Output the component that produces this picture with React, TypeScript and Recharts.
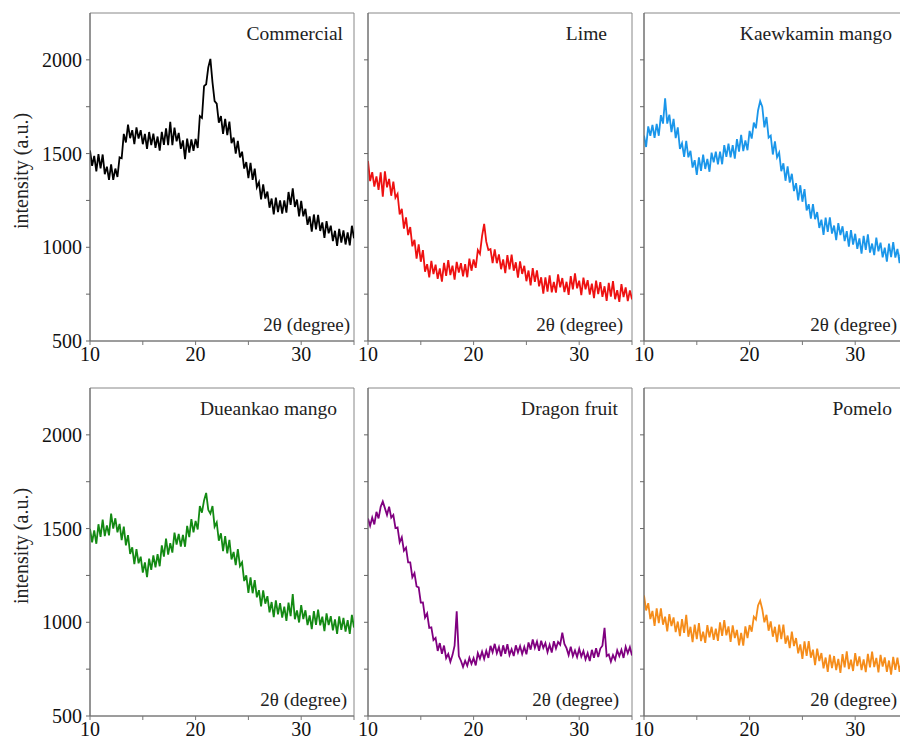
import React from "react";
import { LineChart, Line, XAxis, YAxis, ReferenceArea } from "recharts";

// 2θ measurement angles (degrees)
const twoTheta = [
  10, 10.2, 10.4, 10.6, 10.8, 11, 11.2, 11.4, 11.6, 11.8,
  12, 12.2, 12.4, 12.6, 12.8, 13, 13.2, 13.4, 13.6, 13.8,
  14, 14.2, 14.4, 14.6, 14.8, 15, 15.2, 15.4, 15.6, 15.8,
  16, 16.2, 16.4, 16.6, 16.8, 17, 17.2, 17.4, 17.6, 17.8,
  18, 18.2, 18.4, 18.6, 18.8, 19, 19.2, 19.4, 19.6, 19.8,
  20, 20.2, 20.4, 20.6, 20.8, 21, 21.2, 21.4, 21.6, 21.8,
  22, 22.2, 22.4, 22.6, 22.8, 23, 23.2, 23.4, 23.6, 23.8,
  24, 24.2, 24.4, 24.6, 24.8, 25, 25.2, 25.4, 25.6, 25.8,
  26, 26.2, 26.4, 26.6, 26.8, 27, 27.2, 27.4, 27.6, 27.8,
  28, 28.2, 28.4, 28.6, 28.8, 29, 29.2, 29.4, 29.6, 29.8,
  30, 30.2, 30.4, 30.6, 30.8, 31, 31.2, 31.4, 31.6, 31.8,
  32, 32.2, 32.4, 32.6, 32.8, 33, 33.2, 33.4, 33.6, 33.8,
  34, 34.2, 34.4, 34.6, 34.8, 35,
];

const commercial = [
  1517, 1435, 1488, 1405, 1497, 1421, 1495, 1390, 1430, 1360,
  1443, 1360, 1420, 1375, 1480, 1475, 1605, 1559, 1655, 1582,
  1625, 1550, 1640, 1580, 1625, 1550, 1605, 1525, 1615, 1545,
  1606, 1531, 1591, 1516, 1616, 1546, 1635, 1545, 1670, 1545,
  1639, 1565, 1610, 1525, 1570, 1470, 1580, 1505, 1575, 1515,
  1578, 1530, 1700, 1690, 1860, 1870, 1960, 2005, 1880, 1780,
  1766, 1665, 1700, 1605, 1685, 1599, 1670, 1555, 1585, 1500,
  1568, 1480, 1510, 1420, 1455, 1369, 1450, 1360, 1420, 1320,
  1347, 1255, 1335, 1260, 1297, 1211, 1260, 1175, 1265, 1188,
  1250, 1180, 1250, 1185, 1295, 1226, 1315, 1215, 1255, 1165,
  1247, 1165, 1205, 1120, 1165, 1084, 1175, 1095, 1173, 1087,
  1133, 1050, 1140, 1075, 1115, 1033, 1088, 1007, 1098, 1025,
  1090, 1015, 1080, 1010, 1115, 1048,
];

const lime = [
  1460, 1353, 1401, 1324, 1378, 1306, 1400, 1270, 1405, 1320,
  1365, 1275, 1350, 1265, 1285, 1175, 1205, 1100, 1160, 1065,
  1108, 1005, 1040, 940, 1015, 923, 985, 870, 910, 840,
  927, 857, 907, 832, 887, 817, 917, 847, 932, 852,
  902, 827, 922, 865, 915, 845, 910, 840, 940, 875,
  935, 890, 985, 965, 1060, 1125, 1030, 985, 990, 915,
  989, 915, 962, 883, 935, 862, 958, 882, 961, 875,
  920, 838, 925, 858, 901, 819, 876, 797, 889, 815,
  877, 792, 840, 753, 840, 763, 850, 760, 815, 758,
  856, 786, 836, 761, 816, 746, 846, 776, 861, 781,
  822, 745, 838, 776, 825, 748, 806, 729, 822, 750,
  814, 736, 792, 714, 810, 737, 820, 723, 771, 709,
  803, 734, 786, 713, 770, 722,
];

const kaewkamin = [
  1596, 1535, 1645, 1595, 1653, 1584, 1658, 1595, 1705, 1660,
  1795, 1660, 1708, 1615, 1685, 1582, 1640, 1525, 1555, 1483,
  1568, 1480, 1515, 1425, 1465, 1386, 1480, 1408, 1495, 1418,
  1471, 1403, 1505, 1453, 1510, 1442, 1510, 1443, 1545, 1482,
  1553, 1480, 1545, 1473, 1577, 1510, 1600, 1513, 1570, 1518,
  1621, 1580, 1665, 1635, 1730, 1780, 1750, 1640, 1695, 1585,
  1596, 1495, 1565, 1480, 1505, 1406, 1448, 1355, 1432, 1345,
  1392, 1300, 1342, 1250, 1331, 1243, 1310, 1197, 1230, 1153,
  1230, 1150, 1188, 1103, 1147, 1066, 1158, 1082, 1160, 1073,
  1116, 1038, 1129, 1065, 1112, 1033, 1086, 1003, 1091, 1014,
  1072, 992, 1047, 966, 1061, 986, 1069, 972, 1020, 958,
  1052, 978, 1025, 946, 998, 924, 1020, 947, 1028, 945,
  991, 916, 1012, 953, 1004, 930,
];

const dueankao = [
  1498, 1427, 1490, 1419, 1523, 1456, 1548, 1460, 1517, 1464,
  1580, 1500, 1555, 1480, 1525, 1438, 1510, 1410, 1465, 1365,
  1400, 1310, 1390, 1315, 1350, 1265, 1320, 1241, 1340, 1280,
  1357, 1293, 1364, 1299, 1410, 1350, 1446, 1361, 1422, 1372,
  1478, 1415, 1472, 1404, 1466, 1403, 1514, 1454, 1550, 1480,
  1541, 1495, 1620, 1585, 1650, 1690, 1600, 1580, 1620, 1510,
  1533, 1435, 1475, 1380, 1460, 1368, 1440, 1335, 1375, 1305,
  1390, 1300, 1320, 1220, 1250, 1157, 1240, 1155, 1225, 1133,
  1171, 1085, 1170, 1099, 1139, 1053, 1108, 1028, 1117, 1042,
  1102, 1025, 1083, 1007, 1105, 1033, 1150, 1016, 1063, 999,
  1091, 1017, 1064, 985, 1037, 963, 1059, 986, 1067, 984,
  1030, 953, 1047, 985, 1033, 957, 1015, 938, 1031, 960,
  1023, 950, 1012, 938, 1040, 972,
];

const dragonFruit = [
  1554, 1515, 1559, 1522, 1589, 1554, 1616, 1645, 1609, 1573,
  1617, 1558, 1573, 1503, 1506, 1427, 1454, 1382, 1398, 1320,
  1320, 1240, 1262, 1191, 1186, 1105, 1106, 1025, 1047, 970,
  973, 905, 917, 847, 889, 832, 876, 809, 831, 789,
  825, 875, 1058, 820, 795, 762, 795, 768, 810, 778,
  809, 770, 835, 806, 843, 805, 848, 810, 874, 840,
  885, 835, 868, 819, 877, 832, 883, 826, 856, 820,
  877, 839, 873, 831, 868, 829, 892, 854, 908, 864,
  897, 848, 902, 863, 889, 841, 880, 839, 899, 860,
  895, 880, 945, 885, 862, 825, 870, 820, 850, 815,
  859, 817, 847, 802, 835, 793, 853, 811, 862, 814,
  860, 875, 970, 820, 828, 790, 825, 800, 850, 820,
  853, 810, 869, 835, 867, 823,
];

const pomelo = [
  1143, 1063, 1102, 1017, 1061, 981, 1074, 996, 1074, 987,
  1030, 952, 1043, 980, 1026, 948, 1004, 926, 1017, 944,
  1040, 923, 976, 894, 987, 910, 995, 900, 950, 890,
  985, 920, 976, 906, 966, 901, 1000, 928, 1011, 930,
  978, 896, 983, 916, 959, 877, 944, 876, 978, 916,
  985, 950, 1030, 1015, 1090, 1115, 1070, 1000, 1040, 955,
  1005, 923, 976, 894, 987, 910, 988, 886, 929, 862,
  950, 873, 916, 834, 882, 805, 898, 821, 899, 811,
  854, 772, 860, 793, 836, 754, 812, 735, 828, 756,
  820, 745, 805, 730, 830, 760, 845, 750, 800, 740,
  835, 766, 818, 745, 802, 734, 832, 760, 843, 761,
  810, 733, 826, 764, 813, 736, 796, 721, 816, 746,
  811, 736, 796, 721, 821, 751,
];

const xTicks = [10, 15, 20, 25, 30, 35];
const xTickLabels = [10, 20, 30];
const yTicks = [500, 750, 1000, 1250, 1500, 1750, 2000];
const yTickLabels = [500, 1000, 1500, 2000];

const PLOT_W = 264;
const PLOT_H = 328;
const Y_AXIS_W = 90;
const FONT = '"Liberation Serif", "Times New Roman", serif';

interface PanelProps {
  values: number[];
  color: string;
  left: number;
  top: number;
  showY: boolean;
}

function Panel({ values, color, left, top, showY }: PanelProps) {
  const data = twoTheta.map((x, i) => ({ x, y: values[i] }));
  return (
    <div style={{ position: "absolute", left: left - Y_AXIS_W, top: top - 5 }}>
      <LineChart
        width={Y_AXIS_W + PLOT_W + 5}
        height={5 + PLOT_H + 30}
        data={data}
        margin={{ top: 5, right: 5, bottom: 0, left: 0 }}
      >
        <XAxis
          dataKey="x"
          type="number"
          domain={[10, 35]}
          ticks={xTicks}
          tickFormatter={(v: number) => (xTickLabels.includes(v) ? String(v) : "")}
          height={30}
          tickSize={4}
          stroke="#777"
          tick={{ fill: "#111", fontSize: 20, fontFamily: FONT }}
          allowDataOverflow
        />
        <YAxis
          type="number"
          domain={[500, 2250]}
          ticks={yTicks}
          tickFormatter={(v: number) => (showY && yTickLabels.includes(v) ? String(v) : "")}
          width={Y_AXIS_W}
          tickSize={4}
          tickMargin={4}
          stroke="#666"
          tick={{ fill: "#111", fontSize: 20, fontFamily: FONT }}
          allowDataOverflow
        />
        <ReferenceArea x1={10} x2={35} y1={500} y2={2250} fill="none" stroke="#888" strokeWidth={1} />
        <Line
          type="linear"
          dataKey="y"
          stroke={color}
          strokeWidth={1.8}
          dot={false}
          isAnimationActive={false}
        />
      </LineChart>
    </div>
  );
}

const panels = [
  { name: "Commercial", values: commercial, color: "#000000", left: 90, top: 13, titleRight: 343, axisRight: 350, showY: true },
  { name: "Lime", values: lime, color: "#ee1111", left: 368, top: 13, titleRight: 607, axisRight: 623, showY: false },
  { name: "Kaewkamin mango", values: kaewkamin, color: "#1a96ea", left: 644, top: 13, titleRight: 892, axisRight: 897, showY: false },
  { name: "Dueankao mango", values: dueankao, color: "#138a13", left: 90, top: 388, titleRight: 337, axisRight: 347, showY: true },
  { name: "Dragon fruit", values: dragonFruit, color: "#800080", left: 368, top: 388, titleRight: 618, axisRight: 619, showY: false },
  { name: "Pomelo", values: pomelo, color: "#f58c1a", left: 644, top: 388, titleRight: 892, axisRight: 897, showY: false },
];

export default function App() {
  return (
    <div
      style={{
        position: "absolute",
        left: 0,
        top: 0,
        width: 900,
        height: 740,
        overflow: "hidden",
        background: "#fff",
        fontFamily: FONT,
      }}
    >
      {panels.map((p) => (
        <Panel key={p.name} values={p.values} color={p.color} left={p.left} top={p.top} showY={p.showY} />
      ))}
      <svg width={900} height={740} style={{ position: "absolute", left: 0, top: 0, pointerEvents: "none" }}>
        {panels.map((p) => (
          <g key={p.name} fontFamily={FONT} fill="#222">
            <text x={p.titleRight} y={p.top + 27} textAnchor="end" fontSize={19.5}>
              {p.name}
            </text>
            <text x={p.axisRight} y={p.top + PLOT_H - 10} textAnchor="end" fontSize={19}>
              2θ (degree)
            </text>
          </g>
        ))}
        {[13, 388].map((t) => (
          <text
            key={t}
            x={0}
            y={0}
            transform={`translate(28, ${t + 158}) rotate(-90)`}
            textAnchor="middle"
            fontFamily={FONT}
            fontSize={20}
            fill="#222"
          >
            intensity (a.u.)
          </text>
        ))}
      </svg>
    </div>
  );
}
